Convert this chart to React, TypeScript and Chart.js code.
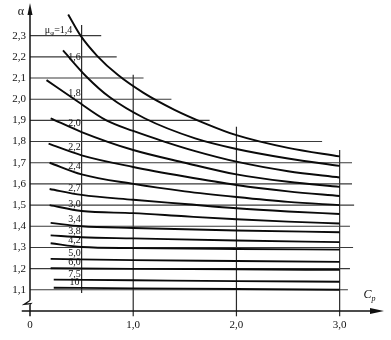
import React, { useEffect, useRef } from "react";
import { Chart, registerables } from "chart.js";

Chart.register(...registerables);

// ---- curve data: Cp (x) and alpha (y) for each mu_phi ----
const curveNames = ["1,4", "1,6", "1,8", "2,0", "2,2", "2,4", "2,7", "3,0", "3,4", "3,8", "4,2", "5,0", "6,0", "7,5", "10"];

const cp14 = [0.37, 0.49, 0.65, 0.85, 1.1, 1.4, 1.7, 2.0, 2.5, 3.0];
const al14 = [2.4, 2.3, 2.205, 2.115, 2.03, 1.95, 1.885, 1.83, 1.77, 1.73];
const cp16 = [0.32, 0.55, 0.77, 1.11, 1.6, 2.0, 2.5, 3.0];
const al16 = [2.23, 2.105, 2.01, 1.91, 1.815, 1.765, 1.72, 1.685];
const cp18 = [0.16, 0.43, 0.74, 1.0, 1.3, 1.6, 2.0, 2.5, 3.0];
const al18 = [2.09, 2.0, 1.9, 1.85, 1.8, 1.755, 1.705, 1.66, 1.63];
const cp20 = [0.2, 0.5, 1.0, 1.5, 2.0, 2.5, 3.0];
const al20 = [1.91, 1.845, 1.76, 1.7, 1.645, 1.61, 1.586];
const cp22 = [0.18, 0.5, 1.0, 1.5, 2.0, 2.5, 3.0];
const al22 = [1.79, 1.735, 1.68, 1.635, 1.595, 1.565, 1.543];
const cp24 = [0.19, 0.5, 1.0, 1.5, 2.0, 2.5, 3.0];
const al24 = [1.7, 1.645, 1.6, 1.565, 1.538, 1.515, 1.5];
const cp27 = [0.19, 0.5, 1.0, 1.5, 2.0, 2.5, 3.0];
const al27 = [1.576, 1.548, 1.525, 1.505, 1.485, 1.47, 1.458];
const cp30 = [0.19, 0.5, 1.0, 1.5, 2.0, 2.5, 3.0];
const al30 = [1.5, 1.472, 1.462, 1.447, 1.433, 1.422, 1.413];
const cp34 = [0.2, 0.5, 1.0, 2.0, 3.0];
const al34 = [1.416, 1.4, 1.392, 1.38, 1.372];
const cp38 = [0.2, 0.5, 1.0, 2.0, 3.0];
const al38 = [1.357, 1.348, 1.343, 1.333, 1.325];
const cp42 = [0.2, 0.5, 1.0, 2.0, 3.0];
const al42 = [1.32, 1.302, 1.297, 1.293, 1.29];
const cp50 = [0.2, 1.0, 2.0, 3.0];
const al50 = [1.246, 1.24, 1.236, 1.232];
const cp60 = [0.2, 1.0, 2.0, 3.0];
const al60 = [1.202, 1.199, 1.197, 1.194];
const cp75 = [0.23, 1.0, 2.0, 3.0];
const al75 = [1.148, 1.145, 1.141, 1.138];
const cp100 = [0.23, 1.0, 2.0, 3.0];
const al100 = [1.11, 1.107, 1.104, 1.1];

const curveCp = [cp14, cp16, cp18, cp20, cp22, cp24, cp27, cp30, cp34, cp38, cp42, cp50, cp60, cp75, cp100];
const curveAl = [al14, al16, al18, al20, al22, al24, al27, al30, al34, al38, al42, al50, al60, al75, al100];

// ---- grid (partial lines as on the nomogram) ----
const hGridAlpha = [1.1, 1.2, 1.3, 1.4, 1.5, 1.6, 1.7, 1.8, 1.9, 2.0, 2.1, 2.2, 2.3];
const hGridEndCp = [3.08, 3.1, 3.13, 3.1, 3.14, 3.12, 3.12, 2.83, 1.74, 1.37, 1.1, 0.84, 0.69];
const vGridCp = [0.5, 1.0, 2.0, 3.0];
const vGridBottom = [1.085, 0.975, 0.975, 0.975];
const vGridTop = [2.35, 2.115, 1.87, 1.76];

// ---- ticks ----
const yTickValues = [1.1, 1.2, 1.3, 1.4, 1.5, 1.6, 1.7, 1.8, 1.9, 2.0, 2.1, 2.2, 2.3];
const yTickLabels = ["1,1", "1,2", "1,3", "1,4", "1,5", "1,6", "1,7", "1,8", "1,9", "2,0", "2,1", "2,2", "2,3"];
const xTickValues = [0, 1, 2, 3];
const xTickLabels = ["0", "1,0", "2,0", "3,0"];

const LABEL_CP = 0.43;
const SERIF = "'Liberation Serif', 'DejaVu Serif', serif";

function interp(xs: number[], ys: number[], x: number) {
  if (x <= xs[0]) return ys[0];
  for (let i = 1; i < xs.length; i++) {
    if (x <= xs[i]) {
      const t = (x - xs[i - 1]) / (xs[i] - xs[i - 1]);
      return ys[i - 1] + t * (ys[i] - ys[i - 1]);
    }
  }
  return ys[ys.length - 1];
}

const decorPlugin = {
  id: "decor",
  afterDatasetsDraw(chart: any) {
    const ctx = chart.ctx;
    const xs = chart.scales.x;
    const ys = chart.scales.y;
    const x0 = xs.getPixelForValue(0);
    const y0 = ys.getPixelForValue(1.0);
    ctx.save();
    ctx.strokeStyle = "#111";
    ctx.fillStyle = "#111";
    ctx.lineWidth = 1.5;
    // x axis
    const xEnd = xs.getPixelForValue(3.42);
    ctx.beginPath();
    ctx.moveTo(xs.getPixelForValue(-0.08), y0);
    ctx.lineTo(xEnd - 6, y0);
    ctx.stroke();
    ctx.beginPath();
    ctx.moveTo(xEnd + 1, y0);
    ctx.lineTo(xEnd - 13, y0 - 3);
    ctx.lineTo(xEnd - 13, y0 + 3);
    ctx.closePath();
    ctx.fill();
    // y axis
    const yTop = ys.getPixelForValue(2.44);
    ctx.beginPath();
    ctx.moveTo(x0, ys.getPixelForValue(0.975));
    ctx.lineTo(x0, ys.getPixelForValue(1.03));
    ctx.moveTo(x0, ys.getPixelForValue(1.05));
    ctx.lineTo(x0, yTop + 4);
    ctx.stroke();
    ctx.beginPath();
    ctx.moveTo(x0, yTop - 3);
    ctx.lineTo(x0 - 2.5, yTop + 9);
    ctx.lineTo(x0 + 2.5, yTop + 9);
    ctx.closePath();
    ctx.fill();
    // axis break
    ctx.lineWidth = 1.2;
    ctx.beginPath();
    const yb1 = ys.getPixelForValue(1.05);
    const yb2 = ys.getPixelForValue(1.03);
    ctx.moveTo(x0, yb1);
    ctx.lineTo(x0 - 6, yb1 + 4);
    ctx.lineTo(x0 + 1, yb2 - 1);
    ctx.lineTo(x0, yb2);
    ctx.stroke();

    // y tick labels
    ctx.font = `11px ${SERIF}`;
    ctx.textAlign = "right";
    ctx.textBaseline = "middle";
    yTickValues.forEach((v, i) => {
      ctx.fillText(yTickLabels[i], x0 - 4, ys.getPixelForValue(v));
    });
    // x tick labels
    ctx.textAlign = "center";
    ctx.textBaseline = "top";
    xTickValues.forEach((v, i) => {
      ctx.fillText(xTickLabels[i], xs.getPixelForValue(v), y0 + 9);
    });
    // axis titles
    ctx.font = `12px ${SERIF}`;
    ctx.textAlign = "center";
    ctx.textBaseline = "middle";
    ctx.fillText("α", x0 - 9, yTop + 6);
    ctx.font = `italic 12px ${SERIF}`;
    ctx.textAlign = "left";
    ctx.textBaseline = "alphabetic";
    const cx = xs.getPixelForValue(3.23);
    const cy = ys.getPixelForValue(1.06);
    ctx.fillText("C", cx, cy);
    ctx.font = `italic 8px ${SERIF}`;
    ctx.fillText("p", cx + 8, cy + 3);

    // curve labels
    ctx.font = `10px ${SERIF}`;
    ctx.textBaseline = "alphabetic";
    curveNames.forEach((name, i) => {
      if (i === 0) {
        const right = xs.getPixelForValue(0.41);
        const base = ys.getPixelForValue(2.3) - 3;
        ctx.font = `10px ${SERIF}`;
        const wMu = ctx.measureText("μ").width;
        const wEq = ctx.measureText("=" + name).width;
        ctx.font = `7px ${SERIF}`;
        const wPhi = ctx.measureText("φ").width;
        let x = right - (wMu + wPhi + wEq);
        ctx.textAlign = "left";
        ctx.font = `10px ${SERIF}`;
        ctx.fillText("μ", x, base);
        x += wMu;
        ctx.font = `7px ${SERIF}`;
        ctx.fillText("φ", x, base + 2);
        x += wPhi;
        ctx.font = `10px ${SERIF}`;
        ctx.fillText("=" + name, x, base);
        return;
      }
      const a = interp(curveCp[i], curveAl[i], LABEL_CP);
      ctx.textAlign = "center";
      ctx.fillText(name, xs.getPixelForValue(LABEL_CP), ys.getPixelForValue(a) - 3);
    });
    ctx.restore();
  },
};

export default function App() {
  const ref = useRef<HTMLCanvasElement | null>(null);

  useEffect(() => {
    if (!ref.current) return;
    const datasets: any[] = [];
    curveCp.forEach((cps, i) => {
      datasets.push({
        label: "μφ=" + curveNames[i],
        data: cps.map((c, j) => ({ x: c, y: curveAl[i][j] })),
        borderColor: "#0a0a0a",
        borderWidth: 1.9,
        pointRadius: 0,
        cubicInterpolationMode: "monotone",
        fill: false,
      });
    });
    hGridAlpha.forEach((a, i) => {
      datasets.push({
        label: "h" + a,
        data: [
          { x: 0, y: a },
          { x: hGridEndCp[i], y: a },
        ],
        borderColor: "#3a3a3a",
        borderWidth: 1.1,
        pointRadius: 0,
        clip: false,
      });
    });
    vGridCp.forEach((c, i) => {
      datasets.push({
        label: "v" + c,
        data: [
          { x: c, y: vGridBottom[i] },
          { x: c, y: vGridTop[i] },
        ],
        borderColor: "#2a2a2a",
        borderWidth: 1.2,
        pointRadius: 0,
        clip: false,
      });
    });

    const chart = new Chart(ref.current, {
      type: "line",
      data: { datasets },
      options: {
        animation: false,
        responsive: false,
        devicePixelRatio: 1,
        layout: { padding: { left: 30, right: 8, top: 6, bottom: 29 } },
        plugins: { legend: { display: false }, tooltip: { enabled: false } },
        scales: {
          x: { type: "linear", min: 0, max: 3.42, display: false },
          y: { type: "linear", min: 1.0, max: 2.44, display: false },
        },
      },
      plugins: [decorPlugin],
    });
    return () => chart.destroy();
  }, []);

  return (
    <div style={{ position: "absolute", left: 0, top: 0, width: 391, height: 340, background: "#fff" }}>
      <canvas ref={ref} width={391} height={340} />
    </div>
  );
}
